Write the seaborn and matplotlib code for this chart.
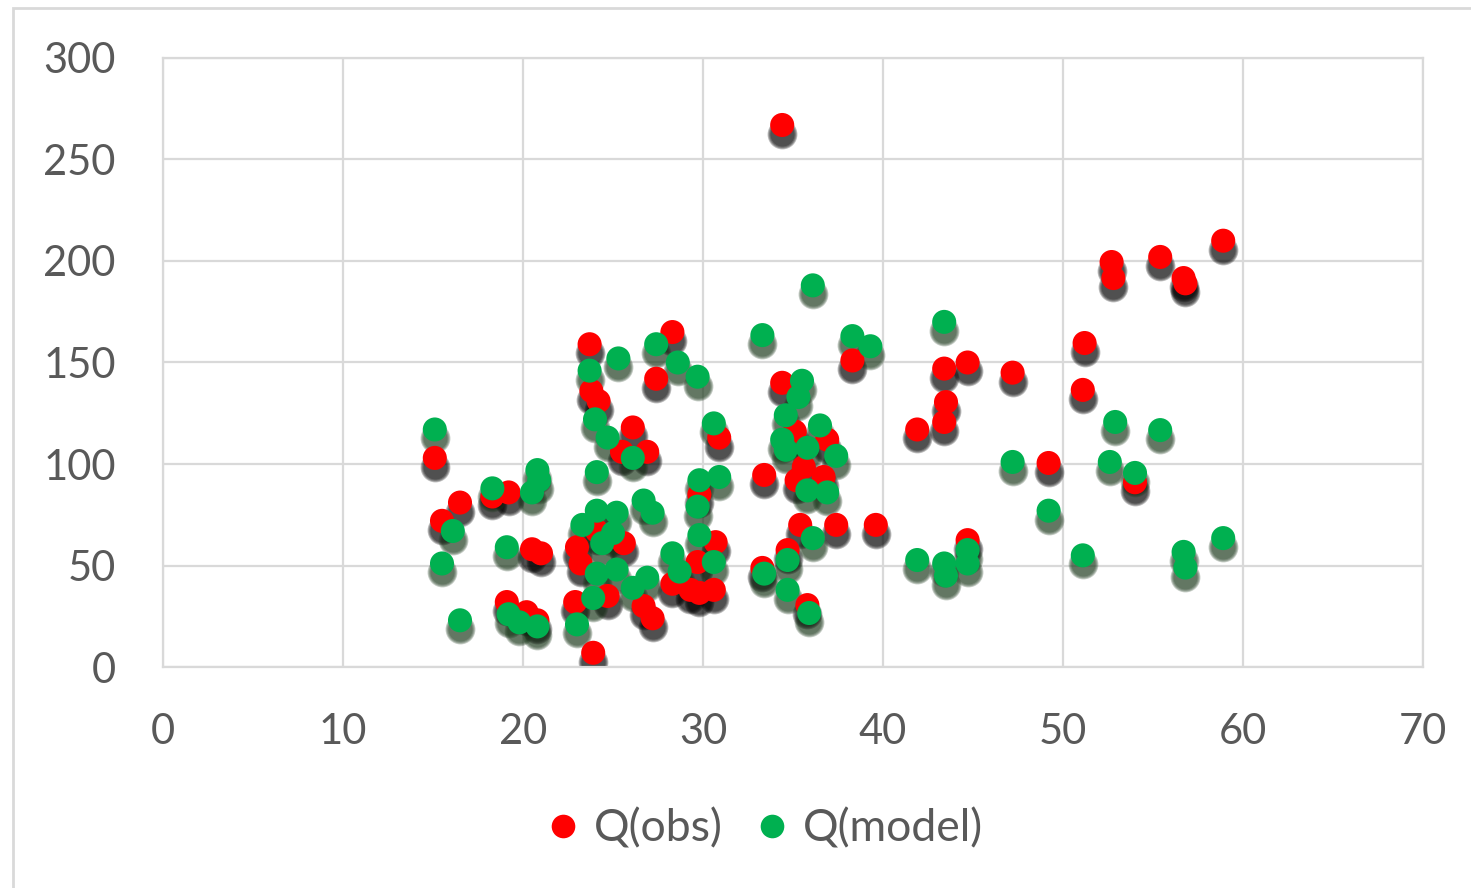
import numpy as np
import pandas as pd
import seaborn as sns
import matplotlib.pyplot as plt
from matplotlib.patches import Rectangle
from matplotlib.lines import Line2D
from matplotlib.transforms import offset_copy

# Q(obs) points
x_obs = [15.1, 15.5, 16.5, 18.3, 19.2, 19.1, 20.2, 20.8, 20.5, 21.0, 22.9, 23.0, 23.2, 24.1,
         25.6, 23.7, 23.8, 24.2, 23.9, 24.7, 26.7, 27.2, 26.1, 25.5, 26.9, 27.4, 28.3, 28.3,
         29.3, 29.8, 30.6, 29.8, 30.7, 29.7, 30.9, 33.4, 33.3, 34.4, 34.4, 35.1, 36.9, 35.6,
         35.2, 36.7, 35.4, 37.4, 39.6, 34.7, 35.8, 38.3, 41.9, 43.4, 44.7, 47.2, 43.5, 43.4,
         44.7, 49.2, 51.2, 51.1, 52.7, 52.8, 54.0, 55.4, 56.7, 56.8, 58.9]
y_obs = [103, 72, 81, 84, 86, 32, 27, 23, 58, 56, 32, 59, 51, 67,
         61, 159, 136, 131, 7, 35, 30, 24, 118, 106, 106, 142, 165, 41,
         38, 36.5, 38, 85, 61.5, 51.7, 113, 94.6, 48.8, 140, 267, 116, 112, 98.5,
         92, 93.6, 70, 70, 70, 57.6, 30.5, 151, 117, 147, 150, 145, 130.5, 120.7,
         62.5, 100.5, 159.6, 136.5, 199.5, 191.6, 91, 202, 191.6, 189, 210]

# Q(model) points
x_mod = [15.1, 16.1, 15.5, 16.5, 18.3, 19.1, 19.2, 19.8, 20.8, 20.8, 20.9, 20.5, 23.0, 24.1,
         23.7, 24.0, 24.7, 25.3, 26.1, 27.4, 28.6, 29.7, 26.7, 27.2, 23.3, 24.1, 25.2, 25.0,
         24.4, 24.1, 25.2, 23.9, 26.1, 26.9, 28.3, 28.7, 29.7, 29.8, 30.6, 29.8, 30.9, 30.6,
         33.3, 33.4, 34.6, 35.5, 35.3, 34.4, 34.6, 36.5, 35.8, 37.4, 35.8, 36.9, 36.1, 34.7,
         34.7, 35.9, 36.1, 38.3, 39.3, 41.9, 43.4, 43.4, 43.5, 44.7, 44.7, 47.2, 49.2, 51.1,
         52.9, 52.6, 54.0, 55.4, 56.7, 56.8, 58.9]
y_mod = [117, 67, 51, 23, 88, 59, 26, 22, 20, 97, 92, 86, 21, 96,
         146, 122, 113, 152, 103, 159, 150, 143, 82, 76, 70, 77, 76, 66,
         61, 46, 48, 34, 39, 44, 56, 47, 79, 65, 51.7, 92, 93.6, 120,
         163.5, 46, 124, 141, 133, 112, 107, 119, 108, 104, 87, 86, 63.5, 52.7,
         38, 26.6, 188, 163, 158, 52.7, 170, 51, 45, 57.6, 51, 101, 77, 55,
         120.7, 101, 95.6, 116.7, 56.7, 49, 63.5]

series = ["Q(obs)", "Q(model)"]
colors = {"Q(obs)": "#ff0000", "Q(model)": "#00b050"}
shadow_colors = {"Q(obs)": "#000000", "Q(model)": "#1e3a1e"}

df = pd.concat([
    pd.DataFrame({"x": x_obs, "y": y_obs, "series": series[0]}),
    pd.DataFrame({"x": x_mod, "y": y_mod, "series": series[1]}),
], ignore_index=True)

sns.set_style("white")
plt.rcParams['font.family'] = ['Lato', 'DejaVu Sans']
text_col = "#595959"
grid_col = "#d9d9d9"

fig = plt.figure(figsize=(14.71, 8.88), dpi=100)
ax = fig.add_axes([163 / 1471, 1 - 667 / 888, (1423 - 163) / 1471, (667 - 58) / 888])

msize = 300

# soft drop shadows under the markers
shadow_tr = offset_copy(ax.transData, fig=fig, x=0, y=-9, units='dots')
for k in range(4):
    for name in series:
        sub = df[df.series == name]
        sns.scatterplot(data=sub, x="x", y="y", ax=ax, color=shadow_colors[name],
                        s=msize * (1 + 0.18 * k), alpha=0.25, linewidth=0,
                        transform=shadow_tr, legend=False, zorder=2)

sns.scatterplot(data=df, x="x", y="y", hue="series", palette=colors, hue_order=series,
                s=msize, linewidth=0, alpha=1, ax=ax, legend=False, zorder=3)

ax.set_xlim(0, 70)
ax.set_ylim(0, 300)
ax.set_xticks(np.arange(0, 71, 10))
ax.set_yticks(np.arange(0, 301, 50))
ax.grid(True, color=grid_col, linewidth=1.6)
ax.set_axisbelow(True)
for sp in ax.spines.values():
    sp.set_color(grid_col)
    sp.set_linewidth(1.6)
ax.set_xlabel("")
ax.set_ylabel("")
ax.tick_params(axis='both', length=0, labelsize=30, labelcolor=text_col)
ax.tick_params(axis='x', pad=33)
ax.tick_params(axis='y', pad=34)

handles = [Line2D([], [], marker='o', linestyle='', markersize=17, markeredgewidth=0,
                  color=colors[n], label=n) for n in series]
fig.legend(handles=handles, loc='center', bbox_to_anchor=(762 / 1471, 1 - 829 / 888),
           ncol=2, frameon=False, fontsize=32, labelcolor=text_col,
           handletextpad=0.2, columnspacing=0.6, handlelength=1.0)

# light chart-area border
fig.patches.append(Rectangle((13 / 1471, -0.1), 1.2, 1.1 - 8 / 888,
                             transform=fig.transFigure, fill=False,
                             edgecolor=grid_col, linewidth=2))

fig.savefig("out.png", dpi=100)
